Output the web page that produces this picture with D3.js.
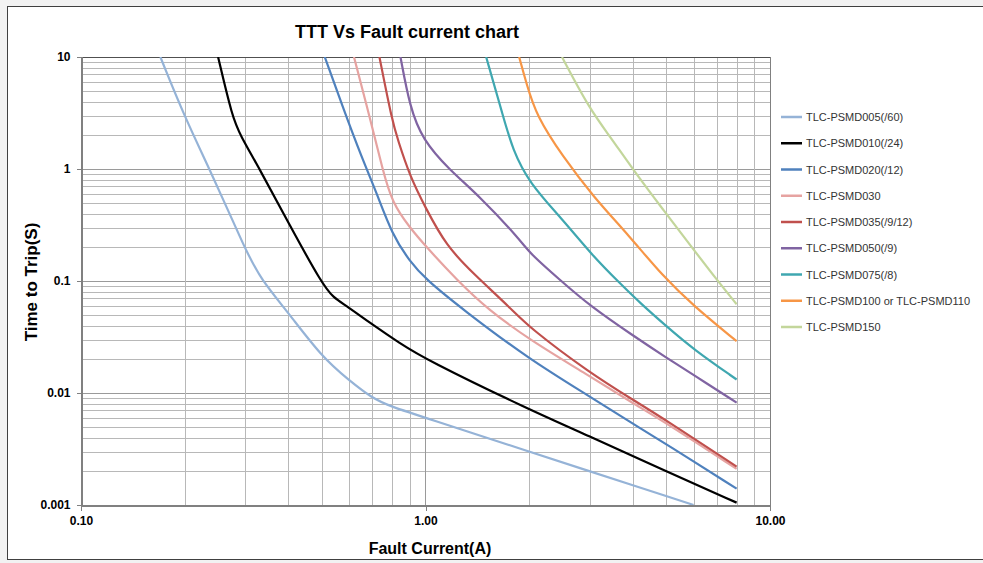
<!DOCTYPE html>
<html lang="en">
<head>
<meta charset="utf-8">
<title>TTT Vs Fault current chart</title>
<script src="https://d3js.org/d3.v7.min.js"></script>
<style>
  html, body { margin: 0; padding: 0; background: #fff; }
  text { font-family: "Liberation Sans", Arial, sans-serif; }
  .grid line { shape-rendering: crispEdges; }
  .axis path, .axis line { stroke: #808080; shape-rendering: crispEdges; }
  .axis text { font-size: 12px; font-weight: bold; fill: #000; }
</style>
</head>
<body>
<div id="chart"></div>
<script>
// series names and colours
var seriesNames = ["TLC-PSMD005(/60)", "TLC-PSMD010(/24)", "TLC-PSMD020(/12)", "TLC-PSMD030",
  "TLC-PSMD035(/9/12)", "TLC-PSMD050(/9)", "TLC-PSMD075(/8)", "TLC-PSMD100 or TLC-PSMD110", "TLC-PSMD150"];
var seriesColors = ["#95b3d7", "#000000", "#4f81bd", "#e6a3a1", "#c0504d", "#8064a2", "#3fa7b0", "#f79646", "#c3d69b"];

// [fault current (A), time to trip (s)]
var psmd005 = [[0.17,10],[0.2,2.9],[0.24,0.9],[0.3,0.19],[0.333,0.103],[0.4,0.052],[0.5,0.021],[0.6,0.013],
  [0.7,0.009],[0.79,0.0076],[1.0,0.006],[2,0.003],[3,0.002],[4,0.0015],[5,0.0012],[6,0.001]];
var psmd010 = [[0.25,10],[0.275,2.9],[0.29,2.0],[0.33,1.0],[0.4,0.33],[0.5,0.095],[0.54,0.071],[0.59,0.06],
  [0.7,0.041],[0.84,0.028],[1.0,0.02],[2,0.0071],[3,0.0041],[5,0.002],[8,0.00105]];
var psmd020 = [[0.51,10],[0.6,2.5],[0.674,1.0],[0.72,0.62],[0.8,0.26],[0.9,0.15],[1.0,0.104],[1.28,0.056],
  [2,0.02],[3,0.0093],[4,0.0053],[5,0.0035],[8,0.0014]];
var psmd030 = [[0.62,10],[0.7,2.4],[0.75,1.0],[0.8,0.5],[0.9,0.3],[1.0,0.205],[1.23,0.103],[1.515,0.056],
  [2,0.03],[3,0.0141],[4,0.0081],[5,0.0054],[8,0.0021]];
var psmd035 = [[0.735,10],[0.8,2.7],[0.831,1.83],[0.9,0.87],[1.0,0.45],[1.15,0.205],[1.37,0.118],[1.78,0.056],
  [2,0.0385],[3,0.0151],[4,0.0087],[5,0.0057],[8,0.0022]];
var psmd050 = [[0.846,10],[0.9,3.6],[0.98,1.83],[1.17,0.99],[1.435,0.572],[1.88,0.235],[2,0.179],[2.45,0.103],
  [3,0.06],[4,0.0326],[5,0.0207],[6,0.0145],[8,0.0082]];
var psmd075 = [[1.5,10],[1.68,2.96],[1.79,1.49],[2.0,0.75],[2.5,0.354],[3.06,0.167],[3.66,0.096],[4.19,0.064],
  [5,0.0395],[6,0.0245],[8,0.0132]];
var psmd100 = [[1.87,10],[1.96,5.9],[2.1,2.96],[2.5,1.3],[3.06,0.572],[3.91,0.251],[4.89,0.11],
  [6,0.06],[8,0.029]];
var psmd150 = [[2.49,10],[3.0,3.4],[3.43,1.96],[4.0,0.99],[4.89,0.435],[6.0,0.191],[7.0,0.103],[8,0.062]];

var seriesData = [psmd005, psmd010, psmd020, psmd030, psmd035, psmd050, psmd075, psmd100, psmd150];

// axis ticks
var xTicks = [0.1, 1, 10], xTickLabels = ["0.10", "1.00", "10.00"];
var yTicks = [0.001, 0.01, 0.1, 1, 10], yTickLabels = ["0.001", "0.01", "0.1", "1", "10"];

var w = 983, h = 563;
var pLeft = 81, pRight = 770, pTop = 57, pBottom = 505;

var svg = d3.select("#chart").append("svg")
  .attr("width", w).attr("height", h);

// outer chart frame
svg.append("rect").attr("x", 0).attr("y", 0).attr("width", w).attr("height", h).attr("fill", "#f2f2f2");
svg.append("rect")
  .attr("x", 7.5).attr("y", 6.5).attr("width", w + 20).attr("height", 553)
  .attr("fill", "#fff").attr("stroke", "#404040").attr("stroke-width", 1);

var x = d3.scaleLog().domain([0.1, 10]).range([pLeft, pRight]);
var y = d3.scaleLog().domain([0.001, 10]).range([pBottom, pTop]);

// minor + major grid
var minorX = [], minorY = [];
[0.1, 1].forEach(function(d) { for (var i = 1; i < 10; i++) minorX.push(d * i); });
[0.001, 0.01, 0.1, 1].forEach(function(d) { for (var i = 1; i < 10; i++) minorY.push(d * i); });

var grid = svg.append("g").attr("class", "grid");
grid.selectAll(".gy").data(minorY).enter().append("line")
  .attr("x1", pLeft).attr("x2", pRight)
  .attr("y1", function(d) { return Math.round(y(d)) + 0.5; })
  .attr("y2", function(d) { return Math.round(y(d)) + 0.5; })
  .attr("stroke", function(d, i) { return i % 9 == 0 ? "#9a9a9a" : "#b8b8b8"; });
grid.selectAll(".gx").data(minorX).enter().append("line")
  .attr("y1", pTop).attr("y2", pBottom)
  .attr("x1", function(d) { return Math.round(x(d)) + 0.5; })
  .attr("x2", function(d) { return Math.round(x(d)) + 0.5; })
  .attr("stroke", function(d, i) { return i % 9 == 0 ? "#9a9a9a" : "#b8b8b8"; });

// plot border
svg.append("rect")
  .attr("x", pLeft + 0.5).attr("y", pTop + 0.5)
  .attr("width", pRight - pLeft).attr("height", pBottom - pTop)
  .attr("fill", "none").attr("stroke", "#808080");
svg.append("line").attr("x1", pLeft).attr("x2", pRight).attr("y1", pTop + 0.5).attr("y2", pTop + 0.5)
  .attr("stroke", "#505050");

// axes
svg.append("g").attr("class", "axis")
  .attr("transform", "translate(" + (pLeft + 0.5) + ",0)")
  .call(d3.axisLeft(y).tickValues(yTicks).tickSize(5).tickPadding(6)
    .tickFormat(function(d, i) { return yTickLabels[i]; }));

svg.append("g").attr("class", "axis")
  .attr("transform", "translate(0," + (pBottom + 0.5) + ")")
  .call(d3.axisBottom(x).tickValues(xTicks).tickSize(5).tickPadding(6)
    .tickFormat(function(d, i) { return xTickLabels[i]; }));

// curves
svg.append("clipPath").attr("id", "clip").append("rect")
  .attr("x", pLeft).attr("y", pTop).attr("width", pRight - pLeft).attr("height", pBottom - pTop);

var line = d3.line()
  .x(function(d) { return x(d[0]); })
  .y(function(d) { return y(d[1]); })
  .curve(d3.curveBasis);

svg.append("g").attr("clip-path", "url(#clip)")
  .selectAll("path").data(seriesData).enter().append("path")
  .attr("d", line)
  .attr("fill", "none")
  .attr("stroke", function(d, i) { return seriesColors[i]; })
  .attr("stroke-width", 2.2)
  .attr("stroke-linejoin", "round");

// titles
svg.append("text").attr("x", 407).attr("y", 38).attr("text-anchor", "middle")
  .style("font-size", "18px").style("font-weight", "bold").text("TTT Vs Fault current chart");

svg.append("text").attr("x", 430).attr("y", 554).attr("text-anchor", "middle")
  .style("font-size", "16px").style("font-weight", "bold").text("Fault Current(A)");

svg.append("text").attr("transform", "translate(37,282) rotate(-90)").attr("text-anchor", "middle")
  .style("font-size", "17px").style("font-weight", "bold").text("Time to Trip(S)");

// legend
var legend = svg.append("g").selectAll("g").data(seriesNames).enter().append("g")
  .attr("transform", function(d, i) { return "translate(781," + (117 + i * 26.25) + ")"; });
legend.append("line").attr("x1", 0).attr("x2", 21).attr("y1", 0).attr("y2", 0)
  .attr("stroke", function(d, i) { return seriesColors[i]; }).attr("stroke-width", 2.5);
legend.append("text").attr("x", 25).attr("y", 4)
  .style("font-size", "11px").style("fill", "#333").text(function(d) { return d; });
</script>
</body>
</html>
